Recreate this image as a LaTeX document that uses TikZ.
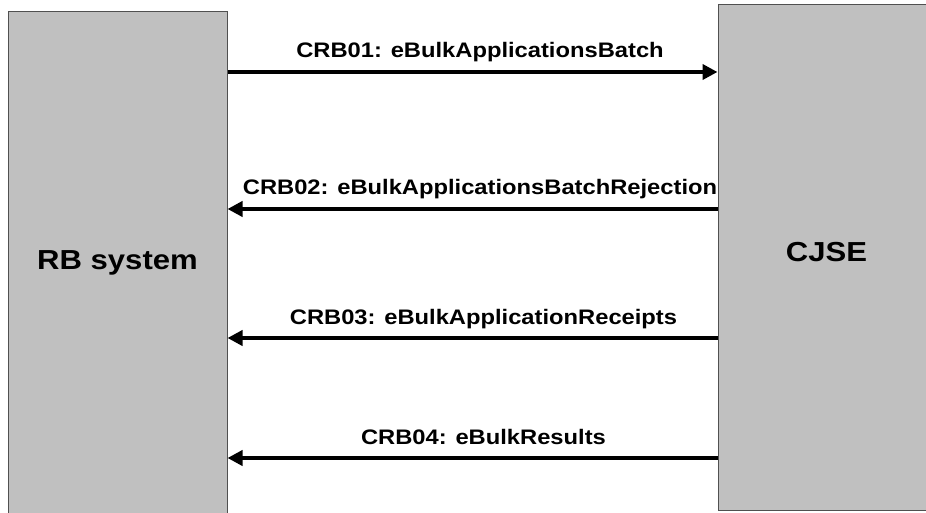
\documentclass[tikz,border=0pt]{standalone}
\usepackage{fontspec}
\setmainfont{Liberation Sans}
\newfontfamily\labfont[FakeStretch=1.13]{Liberation Sans}
\usetikzlibrary{arrows.meta}
\definecolor{boxgray}{HTML}{C0C0C0}
\definecolor{edgegray}{HTML}{505050}
\tikzset{
  sysbox/.style={rectangle, fill=boxgray, draw=edgegray, line width=1pt, inner sep=0pt,
    font=\labfont\fontsize{27.5}{30}\selectfont\bfseries, text height=0.716em, text depth=0pt},
  msg/.style={line width=4.5pt, -{Triangle[length=15pt,width=15pt]}},
  msglabel/.style={anchor=base, inner sep=0pt, font=\labfont\fontsize{21}{24}\selectfont\bfseries}
}
\begin{document}
\begin{tikzpicture}[x=1pt,y=-1pt]
\useasboundingbox (0,0) rectangle (926,513);
\clip (0,0) rectangle (926,513);
\node[sysbox, minimum width=219pt, minimum height=508pt] (rb) at (117.5,266) {RB system};
\node[sysbox, minimum width=217pt, minimum height=505pt] (cj) at (826.5,257.5) {CJSE};
\coordinate (y1) at (0,72);
\coordinate (y2) at (0,209);
\coordinate (y3) at (0,338);
\coordinate (y4) at (0,458);
\draw[msg] (rb.east |- y1) -- (cj.west |- y1);
\draw[msg] (cj.west |- y2) -- (rb.east |- y2);
\draw[msg] (cj.west |- y3) -- (rb.east |- y3);
\draw[msg] (cj.west |- y4) -- (rb.east |- y4);
\node[msglabel] (l1) at (480,58) {CRB01: eBulkApplicationsBatch};
\node[msglabel] (l2) at (480,195) {CRB02: eBulkApplicationsBatchRejection};
\node[msglabel] (l3) at (483.5,324) {CRB03: eBulkApplicationReceipts};
\node[msglabel] (l4) at (483.5,444) {CRB04: eBulkResults};
\end{tikzpicture}
\end{document}
